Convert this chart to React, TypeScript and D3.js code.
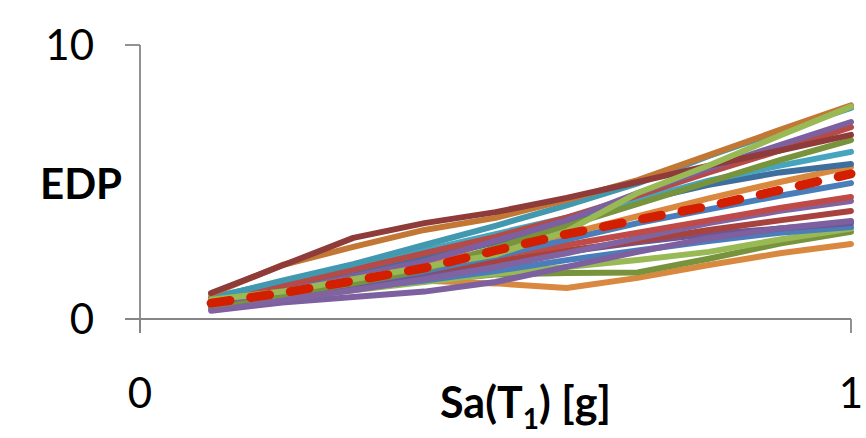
import React from "react";
import * as d3 from "d3";

// Intensity measure levels (g)
const saLevels = [0.1, 0.2, 0.3, 0.4, 0.5, 0.6, 0.7, 0.8, 0.9, 1.0];

// EDP response per ground motion record, one array per record
const rec01 = [0.95, 1.95, 2.96, 3.5, 3.9, 4.42, 5.0, 5.6, 6.15, 6.72];
const rec02 = [0.9, 1.97, 2.63, 3.25, 3.69, 4.35, 5.07, 5.98, 6.9, 7.8];
const rec03 = [0.75, 1.4, 2.0, 2.7, 3.4, 4.15, 4.95, 5.95, 6.85, 7.7];
const rec04 = [0.6, 1.0, 1.55, 2.1, 2.85, 3.6, 4.6, 5.5, 6.35, 7.19];
const rec05 = [0.75, 1.2, 1.8, 2.4, 3.0, 3.7, 4.5, 5.35, 6.15, 7.0];
const rec06 = [0.5, 0.9, 1.3, 1.8, 2.6, 3.4, 4.2, 5.0, 5.8, 6.53];
const rec07 = [0.8, 1.35, 1.9, 2.5, 3.1, 3.7, 4.35, 5.05, 5.6, 6.1];
const rec08 = [0.6, 1.1, 1.6, 2.2, 2.8, 3.55, 4.3, 4.9, 5.35, 5.66];
const rec09 = [0.55, 0.9, 1.45, 2.0, 2.55, 3.1, 3.75, 4.4, 5.0, 5.55];
const rec10 = [0.6, 0.95, 1.3, 1.75, 2.3, 2.9, 3.5, 4.0, 4.5, 4.96];
const rec11 = [0.7, 1.1, 1.55, 2.0, 2.3, 2.7, 3.15, 3.6, 4.05, 4.45];
const rec12 = [0.35, 0.7, 1.05, 1.45, 1.9, 2.4, 2.95, 3.5, 3.95, 4.31];
const rec13 = [0.65, 1.0, 1.35, 1.75, 2.1, 2.5, 2.85, 3.25, 3.6, 3.94];
const rec14 = [0.3, 0.6, 0.8, 1.0, 1.35, 1.9, 2.45, 2.95, 3.3, 3.58];
const rec15 = [0.45, 0.8, 1.15, 1.6, 2.05, 2.45, 2.8, 3.1, 3.3, 3.5];
const rec16 = [0.5, 0.8, 1.1, 1.4, 1.75, 2.15, 2.5, 2.85, 3.15, 3.36];
const rec17 = [0.45, 0.75, 1.05, 1.35, 1.65, 1.9, 2.15, 2.45, 2.9, 3.3];
const rec18 = [0.5, 0.8, 1.1, 1.4, 1.62, 1.68, 1.7, 2.2, 2.75, 3.18];
const rec19 = [0.55, 0.9, 1.25, 1.4, 1.3, 1.13, 1.5, 1.97, 2.4, 2.74];
const rec20 = [0.7, 1.0, 1.45, 1.9, 2.35, 3.2, 4.6, 5.6, 6.7, 7.75];

// Median response across records
const median = [0.58, 0.95, 1.39, 1.86, 2.5, 3.1, 3.62, 4.12, 4.7, 5.3];

const records = [
  rec19, rec18, rec17, rec16, rec15, rec14, rec13, rec12, rec11, rec10,
  rec09, rec08, rec07, rec06, rec05, rec04, rec03, rec02, rec01, rec20,
];
const recordColors = [
  "#D9893F", "#77933C", "#98B954", "#4A7EBB", "#6F5591", "#7D60A0", "#A8423F", "#8064A2", "#BE4B48", "#4A7EBB",
  "#D9893F", "#3E6E9E", "#46A5BE", "#77933C", "#B54A47", "#7D60A0", "#4198AF", "#C27734", "#8E3B3A", "#98B954",
];

const xTicks = [0, 1];
const yTicks = [0, 10];

const W = 866;
const H = 438;

export default function App() {
  const x = d3.scaleLinear().domain([0, 1]).range([140, 851]);
  const y = d3.scaleLinear().domain([0, 10]).range([319, 45]);
  const line = d3
    .line<number>()
    .x((_, i) => x(saLevels[i]))
    .y((d) => y(d));

  const axisColor = "#868686";
  const font = "Lato, 'Open Sans', sans-serif";

  return (
    <svg
      width={W}
      height={H}
      viewBox={`0 0 ${W} ${H}`}
      style={{ position: "absolute", left: 0, top: 0, background: "#fff" }}
    >
      {/* axes */}
      <line x1={x(0)} x2={x(0)} y1={y(10)} y2={y(0) + 14} stroke={axisColor} strokeWidth={1.8} />
      <line x1={x(0) - 15} x2={x(1)} y1={y(0)} y2={y(0)} stroke={axisColor} strokeWidth={1.8} />
      {yTicks.map((t) => (
        <line key={`yt${t}`} x1={x(0) - 15} x2={x(0)} y1={y(t)} y2={y(t)} stroke={axisColor} strokeWidth={1.8} />
      ))}
      {xTicks.map((t) => (
        <line key={`xt${t}`} x1={x(t)} x2={x(t)} y1={y(0)} y2={y(0) + 14} stroke={axisColor} strokeWidth={1.8} />
      ))}

      {/* record curves */}
      {records.map((r, i) => (
        <path
          key={i}
          d={line(r) || ""}
          fill="none"
          stroke={recordColors[i]}
          strokeWidth={6}
          strokeLinejoin="round"
          strokeLinecap="round"
        />
      ))}

      {/* median curve */}
      <path
        d={line(median) || ""}
        fill="none"
        stroke="#D41E00"
        strokeWidth={9}
        strokeDasharray="19 21"
        strokeLinecap="round"
        strokeLinejoin="round"
      />

      {/* tick labels */}
      {yTicks.map((t) => (
        <text
          key={`yl${t}`}
          x={94}
          y={y(t) + 15}
          textAnchor="end"
          fontFamily={font}
          fontSize={42}
          fill="#000"
        >
          {t}
        </text>
      ))}
      {xTicks.map((t) => (
        <text
          key={`xl${t}`}
          x={x(t)}
          y={408}
          textAnchor="middle"
          fontFamily={font}
          fontSize={42}
          fill="#000"
        >
          {t}
        </text>
      ))}

      {/* axis titles */}
      <text x={40} y={199} fontFamily={font} fontSize={42} fontWeight="bold" fill="#000">
        EDP
      </text>
      <text x={440} y={418} fontFamily={font} fontSize={43} fontWeight="bold" fill="#000">
        Sa(T<tspan fontSize={28} dy={11}>1</tspan>
        <tspan dy={-11}>) [g]</tspan>
      </text>
    </svg>
  );
}
